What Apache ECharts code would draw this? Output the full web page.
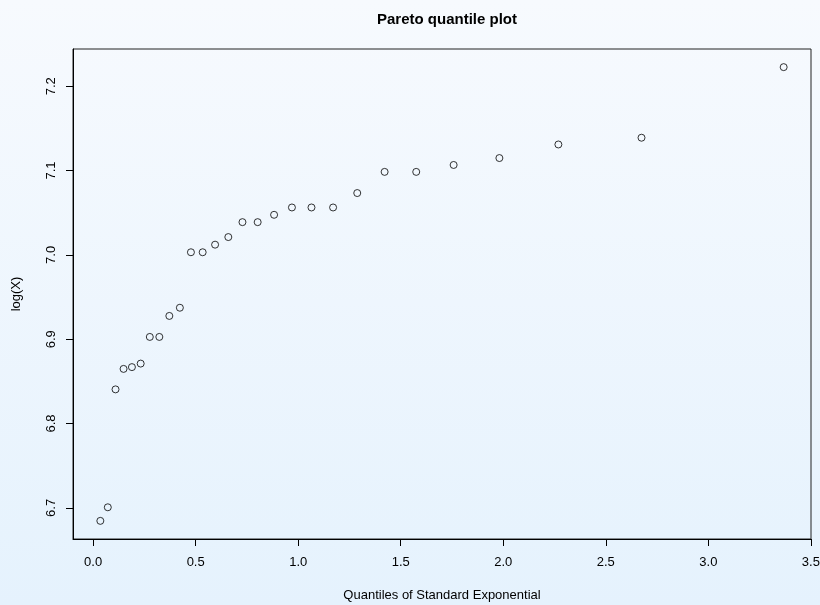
<!DOCTYPE html>
<html>
<head>
<meta charset="utf-8">
<script src="https://cdn.jsdelivr.net/npm/echarts@6/dist/echarts.min.js"></script>
<style>
  html, body { margin: 0; padding: 0; }
  #main { width: 820px; height: 605px; background: linear-gradient(to bottom, #f7fafe, #e5f2fd); }
</style>
</head>
<body>
<div id="main"></div>
<script>
// quantiles of the standard exponential (x) and log of the sample (y)
var quantiles = [0.0351, 0.0715, 0.1092, 0.1484, 0.1892, 0.2318, 0.2763, 0.3228, 0.3716, 0.4229,
                 0.4769, 0.5341, 0.5947, 0.6592, 0.7282, 0.8023, 0.8824, 0.9694, 1.0647, 1.1701,
                 1.2879, 1.4214, 1.5755, 1.7579, 1.9810, 2.2687, 2.6741, 3.3673];
var logX = [6.6846, 6.7007, 6.8405, 6.8648, 6.8669, 6.8711, 6.9027, 6.9027, 6.9276, 6.9373,
            7.0031, 7.0031, 7.0121, 7.0211, 7.0388, 7.0388, 7.0475, 7.0562, 7.0562, 7.0562,
            7.0733, 7.0984, 7.0984, 7.1066, 7.1148, 7.1309, 7.1389, 7.2226];
var xTicks = [0, 0.5, 1.0, 1.5, 2.0, 2.5, 3.0, 3.5];
var yTicks = [6.7, 6.8, 6.9, 7.0, 7.1, 7.2];

var font = "'Liberation Sans', Arial, Helvetica, sans-serif";

var points = [];
for (var i = 0; i < quantiles.length; i++) {
    points.push([quantiles[i], logX[i]]);
}

var option = {
    backgroundColor: 'transparent',
    animation: false,
    title: {
        text: 'Pareto quantile plot',
        left: 442,
        top: 7,
        textAlign: 'center',
        textStyle: { fontFamily: font, fontSize: 15, fontWeight: 'bold', color: '#000' }
    },
    grid: {
        left: 73,
        right: 9,
        top: 49,
        bottom: 66,
        outerBoundsMode: 'none',
        show: true,
        borderColor: '#222',
        borderWidth: 1,
        backgroundColor: 'transparent'
    },
    xAxis: {
        type: 'value',
        min: -0.0982,
        max: 3.5006,
        name: 'Quantiles of Standard Exponential',
        nameLocation: 'middle',
        nameGap: 50,
        nameTextStyle: { fontFamily: font, fontSize: 13, color: '#000' },
        axisLine: { show: true, onZero: false, lineStyle: { color: '#000', width: 1 } },
        axisTick: { show: true, length: 7, customValues: xTicks, lineStyle: { color: '#000' } },
        axisLabel: {
            customValues: xTicks,
            margin: 17,
            fontFamily: font,
            fontSize: 13,
            color: '#000',
            formatter: function (v) { return v.toFixed(1); }
        },
        splitLine: { show: false }
    },
    yAxis: {
        type: 'value',
        min: 6.6631,
        max: 7.2441,
        name: 'log(X)',
        nameLocation: 'middle',
        nameRotate: 90,
        nameGap: 50,
        nameTextStyle: { fontFamily: font, fontSize: 13, color: '#000' },
        axisLine: { show: true, onZero: false, lineStyle: { color: '#000', width: 1 } },
        axisTick: { show: true, length: 7, customValues: yTicks, lineStyle: { color: '#000' } },
        axisLabel: {
            customValues: yTicks,
            rotate: 90,
            margin: 15,
            fontFamily: font,
            fontSize: 13,
            color: '#000',
            formatter: function (v) { return v.toFixed(1); }
        },
        splitLine: { show: false }
    },
    series: [{
        type: 'scatter',
        data: points,
        symbol: 'circle',
        symbolSize: 7,
        itemStyle: { color: 'rgba(0,0,0,0)', borderColor: '#000', borderWidth: 1 }
    }]
};

var myChart = echarts.init(document.getElementById('main'));
myChart.setOption(option, true);
</script>
</body>
</html>
